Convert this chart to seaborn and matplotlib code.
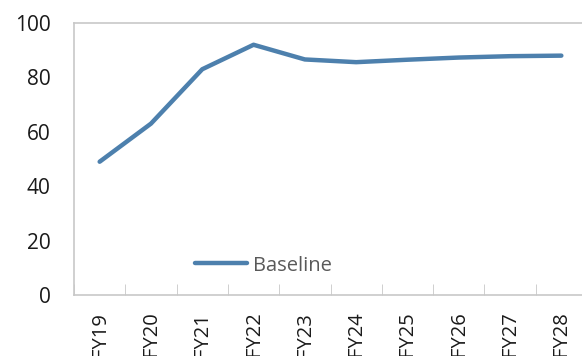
import matplotlib
matplotlib.use("Agg")
import matplotlib.pyplot as plt
import seaborn as sns
import pandas as pd
import numpy as np

# data
years = ["FY19", "FY20", "FY21", "FY22", "FY23", "FY24", "FY25", "FY26", "FY27", "FY28"]
baseline = [49, 63, 83, 92, 86.6, 85.6, 86.5, 87.3, 87.8, 88.0]
y_ticks = [0, 20, 40, 60, 80, 100]

df = pd.DataFrame({"year": years, "Baseline": baseline})
df["pos"] = range(len(years))

sns.set_style("white")
plt.rcParams["font.family"] = ["Open Sans", "DejaVu Sans"]

fig = plt.figure(figsize=(5.82, 3.56), dpi=100)
ax = fig.add_axes([74 / 582, 1 - 295 / 356, 513 / 582, 272 / 356])

sns.lineplot(data=df, x="pos", y="Baseline", ax=ax, color="#4D80AD",
             linewidth=3.2, label="Baseline")

ax.set_xlim(-0.5, len(years) - 0.5)
ax.set_ylim(0, 100)
ax.set_yticks(y_ticks)
ax.set_xticks(df["pos"])
ax.set_xticklabels(years, rotation=90)
ax.set_xticks(np.arange(-0.5, len(years), 1), minor=True)
ax.set_xlabel("")
ax.set_ylabel("")

grey = "#C8C8C8"
for s in ["left", "bottom", "top"]:
    ax.spines[s].set_color(grey)
    ax.spines[s].set_linewidth(1.2)
ax.spines["right"].set_visible(False)

ax.tick_params(axis="y", which="major", direction="in", length=7, color=grey,
               labelsize=15, labelcolor="#1A1A1A", pad=17)
ax.tick_params(axis="x", which="major", length=0, labelsize=14.5,
               labelcolor="#1A1A1A", pad=12)
ax.tick_params(axis="x", which="minor", direction="in", length=8, color=grey,
               bottom=True)

leg = ax.legend(loc="lower left", bbox_to_anchor=(0.2, 0.005), frameon=False,
                fontsize=14.5, handlelength=2.6, handletextpad=0.3)
for t in leg.get_texts():
    t.set_color("#595959")

fig.savefig("out.png", dpi=100)
